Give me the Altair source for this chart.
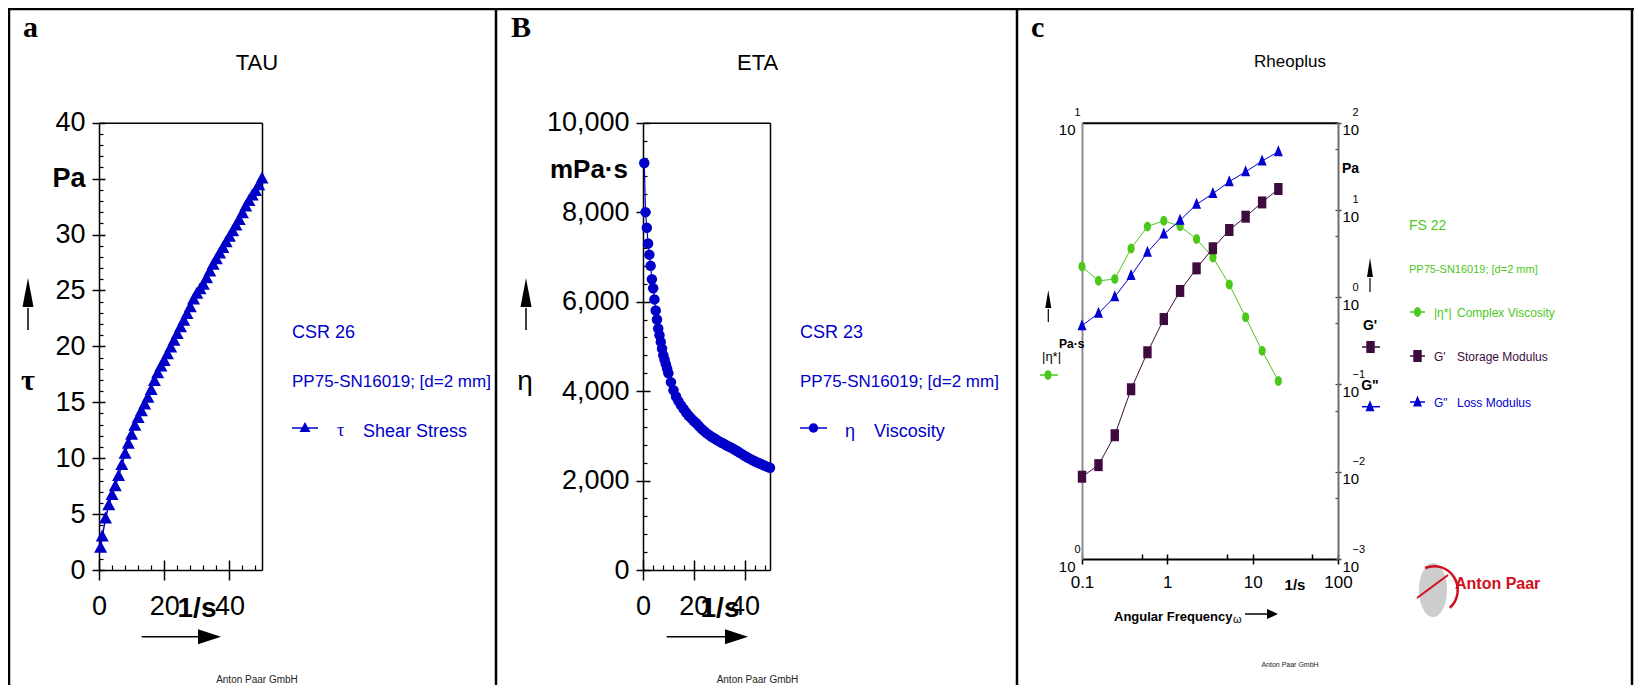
import altair as alt
import pandas as pd

# ------------------------------------------------------------------ data
# Panel a: shear stress curve (CSR 26)
rate_a = [0.5, 1, 2, 3, 4, 5, 6, 7, 8, 9, 10, 11, 12, 13, 14, 15, 16, 17, 18, 19, 20,
          21, 22, 23, 24, 25, 26, 27, 28, 29, 30, 31, 32, 33, 34, 35, 36, 37, 38, 39, 40,
          41, 42, 43, 44, 45, 46, 47, 48, 49, 50]
tau_a = [2.0, 3.0, 4.6, 5.8, 6.7, 7.5, 8.4, 9.4, 10.4, 11.3, 12.1, 12.9, 13.6, 14.2, 14.8, 15.4, 16.1, 16.9, 17.6, 18.2, 18.7,
         19.3, 19.9, 20.5, 21.1, 21.7, 22.3, 22.9, 23.5, 24.2, 24.7, 25.1, 25.5, 26.1, 26.7, 27.3, 27.8, 28.3, 28.8, 29.3, 29.8,
         30.3, 30.8, 31.3, 31.9, 32.5, 33.0, 33.5, 33.9, 34.4, 35.0]

# Panel b: viscosity curve (CSR 23), mPa·s
rate_b = [0.5, 1.0, 1.5, 2.0, 2.5, 3.0, 3.5, 4.0, 4.5, 5.0, 5.5, 6.0, 6.5, 7.0, 7.5, 8.0, 8.5, 9.0, 9.5, 10.0,
          11, 12, 13, 14, 15, 16, 17, 18, 19, 20, 21, 22, 23, 24, 25, 26, 27, 28, 29, 30,
          31, 32, 33, 34, 35, 36, 37, 38, 39, 40, 41, 42, 43, 44, 45, 46, 47, 48, 49, 50]
visc_b = [9100, 8000, 7650, 7300, 7050, 6800, 6500, 6300, 6050, 5800, 5600, 5400, 5250, 5100, 4950, 4800, 4700, 4600, 4500, 4400,
          4200, 4020, 3880, 3770, 3680, 3600, 3520, 3450, 3390, 3330, 3280, 3220, 3160, 3110, 3060, 3020, 2980, 2945, 2910, 2875,
          2845, 2815, 2785, 2755, 2725, 2695, 2660, 2625, 2590, 2555, 2520, 2490, 2460, 2430, 2405, 2380, 2355, 2330, 2305, 2285]

# Panel c: frequency sweep (FS 22)
ang_freq = [0.1, 0.156, 0.242, 0.376, 0.585, 0.909, 1.41, 2.2, 3.42, 5.32, 8.27, 12.9, 20]
complex_visc = [4.68, 4.34, 4.38, 5.15, 5.78, 5.96, 5.79, 5.41, 4.91, 4.26, 3.58, 3.0, 2.56]
storage_mod = [0.00877, 0.0119, 0.0262, 0.0881, 0.234, 0.562, 1.18, 2.14, 3.64, 5.89, 8.37, 12.2, 17.4]
loss_mod = [0.472, 0.654, 1.01, 1.77, 3.27, 5.3, 7.62, 11.6, 15.4, 21.1, 27.4, 36.4, 46.5]

# tick values
a_x_major = [0, 20, 40]
a_x_minor = [4, 8, 12, 16, 24, 28, 32, 36, 44, 48]
a_y_major = [0, 5, 10, 15, 20, 25, 30, 35, 40]
a_y_minor = [i for i in range(1, 40) if i % 5]
b_y_major = [0, 2000, 4000, 6000, 8000, 10000]
b_y_minor = [400 * k for k in range(1, 25) if k % 5]
c_x_major = [0.1, 1, 10, 100]
c_x_all = [0.1, 0.5, 1, 5, 10, 50, 100]
c_yl = [1, 10]
c_yr = [0.001, 0.01, 0.1, 1, 10, 100]
c_yr_all = [0.001, 0.005, 0.01, 0.05, 0.1, 0.5, 1, 5, 10, 50, 100]

df_a = pd.DataFrame({"rate": rate_a, "tau": tau_a})
df_b = pd.DataFrame({"rate": rate_b, "eta": visc_b})
df_c = pd.DataFrame({"w": ang_freq, "eta": complex_visc, "gp": storage_mod, "gpp": loss_mod})

# ------------------------------------------------------------------ style
W, H = 1626, 677
MARGIN = 8
SANS = "Liberation Sans"
NARROW = "Liberation Sans Narrow, Liberation Sans"
SERIF = "Liberation Serif"
BLUE = "#0000c8"
GREEN = "#4cc81a"
PURPLE = "#3d0b3d"
CBLUE = "#0000d0"
RED = "#d0101c"
GRAY = "#8c8c8c"

ONE = alt.Data(values=[{"k": 0}])


def P(v):
    return v - MARGIN


def text(s, x, y, size, color="black", font=SANS, weight="normal", align="left"):
    return alt.Chart(ONE).mark_text(text=s, font=font, fontSize=size, fontWeight=weight, color=color,
                                    align=align, baseline="alphabetic").encode(
        x=alt.value(P(x)), y=alt.value(P(y)))


def line(x1, y1, x2, y2, color="black", width=1.5):
    return alt.Chart(ONE).mark_rule(color=color, strokeWidth=width).encode(
        x=alt.value(P(x1)), y=alt.value(P(y1)), x2=alt.value(P(x2)), y2=alt.value(P(y2)))


def symbol(x, y, shape, color, size=4, opacity=1.0):
    return alt.Chart(ONE).mark_point(shape=shape, size=size, filled=True, color=color,
                                     opacity=opacity).encode(x=alt.value(P(x)), y=alt.value(P(y)))


def up_arrow(x, y_tail, y_base, w, h, shaft_w=1.5):
    return [line(x, y_tail, x, y_base + 1, width=shaft_w),
            symbol(x, y_base, f"M{-w/2},0L{w/2},0L0,{-h}Z", "black")]


def right_arrow(x_tail, x_base, y, l, h, shaft_w=1.5):
    return [line(x_tail, y, x_base + 1, y, width=shaft_w),
            symbol(x_base, y, f"M0,{-h/2}L{l},0L0,{h/2}Z", "black")]


TRI_A = "M0,-7L6.5,5L-6.5,5Z"
TRI_A_LEG = "M0,-6L5.5,4L-5.5,4Z"
TRI_C = "M0,-6.5L4.5,4.5L-4.5,4.5Z"
SQ_C = "M-4.2,-6L4.2,-6L4.2,6L-4.2,6Z"
ELL_C = "M-3.6,0A3.6,5,0,1,0,3.6,0A3.6,5,0,1,0,-3.6,0Z"


def lin(domain, r):
    return alt.Scale(type="linear", domain=domain, range=r, nice=False, zero=False)


def logsc(domain, r):
    return alt.Scale(type="log", domain=domain, range=r, nice=False)


def ax(orient, pos, **kw):
    if orient == "left":
        off = -P(pos)
    elif orient == "right":
        off = P(pos) - W
    elif orient == "top":
        off = -P(pos)
    else:
        off = P(pos) - H
    base = dict(orient=orient, offset=off, title=None, grid=False, labels=False, ticks=False,
                domain=False, tickSize=0, labelOverlap=False, labelFlush=False, labelBound=False,
                tickColor="black", tickWidth=1.5, domainColor="black", domainWidth=1.5,
                labelColor="black")
    base.update(kw)
    return alt.Axis(**base)


layers = []

# ------------------------------------------------------------------ outer frame
layers += [
    line(8, 9, 1634, 9, width=2.5),
    line(9, 8, 9, 690, width=2.5),
    line(496, 8, 496, 690, width=2.5),
    line(1017, 8, 1017, 690, width=2.5),
    line(1632, 8, 1632, 690, width=2.5),
]

# ------------------------------------------------------------------ panel a
def XA(axis):
    return alt.X("rate:Q", scale=lin([0, 50], [P(99), P(262)]), axis=axis)


def YA(axis):
    return alt.Y("tau:Q", scale=lin([0, 40], [P(570), P(122.7)]), axis=axis)


layers += [
    alt.Chart(df_a).mark_point(opacity=0).encode(
        x=XA(ax("bottom", 560, values=a_x_major, ticks=True, tickSize=10)),
        y=YA(ax("left", 105, values=a_y_major, ticks=True, tickSize=6))),
    alt.Chart(df_a).mark_point(opacity=0).encode(
        x=XA(ax("bottom", 565, values=a_x_minor, ticks=True, tickSize=5, tickWidth=1.2)),
        y=YA(ax("left", 103, values=a_y_minor, ticks=True, tickSize=4, tickWidth=1.2))),
    alt.Chart(df_a).mark_point(opacity=0).encode(
        x=XA(ax("top", 122.7, domain=True)),
        y=YA(ax("right", 262, domain=True))),
    alt.Chart(df_a).mark_line(color=BLUE, strokeWidth=1.5,
                              point=alt.OverlayMarkDef(shape=TRI_A, size=4, filled=True, color=BLUE, opacity=1)).encode(
        x=XA(ax("bottom", 570, values=a_x_major, ticks=True, tickSize=10, domain=True, labels=True,
                labelFont=SANS, labelFontSize=27, labelPadding=13)),
        y=YA(ax("left", 99, values=a_y_major, ticks=True, tickSize=7, domain=True, labels=True,
                labelFont=SANS, labelFontSize=27, labelPadding=7,
                labelExpr="datum.value == 35 ? 'Pa' : datum.label",
                labelFontWeight={"condition": {"test": "datum.value == 35", "value": "bold"}, "value": "normal"}))),
]

layers += [
    text("a", 23, 37, 30, font=SERIF, weight="bold"),
    text("TAU", 257, 70, 22, align="center"),
    text("τ", 28, 390, 30, font=SERIF, weight="bold", align="center"),
    text("1/s", 197, 617, 28, weight="bold", align="center"),
    text("CSR 26", 292, 338, 18, color=BLUE),
    text("PP75-SN16019; [d=2 mm]", 292, 387, 17, color=BLUE),
    line(292, 428, 318, 428, color=BLUE, width=1.5),
    symbol(305, 428, TRI_A_LEG, BLUE),
    text("τ", 337, 436, 18, color=BLUE, font=SERIF),
    text("Shear Stress", 363, 437, 18, color=BLUE),
    text("Anton Paar GmbH", 257, 683, 10, font=NARROW, align="center", color="#222222"),
]
layers += up_arrow(28, 330, 307, 11, 29)
layers += right_arrow(141.7, 198, 636.7, 23, 15)

# ------------------------------------------------------------------ panel b
def XB(axis):
    return alt.X("rate:Q", scale=lin([0, 50], [P(643), P(770)]), axis=axis)


def YB(axis):
    return alt.Y("eta:Q", scale=lin([0, 10000], [P(570), P(122.7)]), axis=axis)


layers += [
    alt.Chart(df_b).mark_point(opacity=0).encode(
        x=XB(ax("bottom", 560, values=a_x_major, ticks=True, tickSize=10)),
        y=YB(ax("left", 650, values=b_y_major, ticks=True, tickSize=7))),
    alt.Chart(df_b).mark_point(opacity=0).encode(
        x=XB(ax("bottom", 565, values=a_x_minor, ticks=True, tickSize=5, tickWidth=1.2)),
        y=YB(ax("left", 647, values=b_y_minor, ticks=True, tickSize=4, tickWidth=1.2))),
    alt.Chart(df_b).mark_point(opacity=0).encode(
        x=XB(ax("top", 122.7, domain=True)),
        y=YB(ax("right", 770, domain=True))),
    alt.Chart(df_b).mark_line(color=BLUE, strokeWidth=1.2,
                              point=alt.OverlayMarkDef(shape="circle", size=110, filled=True, color=BLUE, opacity=1)).encode(
        x=XB(ax("bottom", 570, values=a_x_major, ticks=True, tickSize=10, domain=True, labels=True,
                labelFont=SANS, labelFontSize=27, labelPadding=13)),
        y=YB(ax("left", 643, values=b_y_major, ticks=True, tickSize=7, domain=True, labels=True,
                labelFont=SANS, labelFontSize=27, labelPadding=7,
                labelExpr="format(datum.value, ',')"))),
]

layers += [
    text("B", 511, 37, 30, font=SERIF, weight="bold"),
    text("ETA", 757.7, 70, 22, align="center"),
    text("mPa·s", 628, 178, 26, weight="bold", align="right"),
    text("η", 525, 390, 28, align="center"),
    text("1/s", 720, 617, 28, weight="bold", align="center"),
    text("CSR 23", 800, 338, 18, color=BLUE),
    text("PP75-SN16019; [d=2 mm]", 800, 387, 17, color=BLUE),
    line(800, 428, 827, 428, color=BLUE, width=1.5),
    symbol(813.5, 428, "circle", BLUE, size=90),
    text("η", 845, 437, 18, color=BLUE),
    text("Viscosity", 874, 437, 18, color=BLUE),
    text("Anton Paar GmbH", 757.5, 683, 10, font=NARROW, align="center", color="#222222"),
]
layers += up_arrow(526, 330, 307, 11, 29)
layers += right_arrow(666.7, 725, 636.7, 23, 15)

# ------------------------------------------------------------------ panel c
def XC(axis):
    return alt.X("w:Q", scale=logsc([0.1, 100], [P(1082), P(1338)]), axis=axis)


def YL(field, axis):
    return alt.Y(f"{field}:Q", scale=logsc([1, 10], [P(559), P(122.7)]), axis=axis)


def YR(field, axis):
    return alt.Y(f"{field}:Q", scale=logsc([0.001, 100], [P(559), P(122.7)]), axis=axis)


EXP = "format(round(log(datum.value) / LN10), 'd')"

layers += [
    alt.Chart(df_c).mark_point(opacity=0).encode(
        x=XC(None),
        y=YL("eta", ax("left", 1082, values=c_yl, labels=True, labelExpr=EXP, labelAlign="left",
                       labelPadding=8, labelOffset=-10, labelFont=NARROW, labelFontSize=11))),
    alt.Chart(df_c).mark_point(opacity=0).encode(
        x=XC(None),
        y=YR("gp", ax("right", 1335, values=c_yr_all, ticks=True, tickSize=3, tickWidth=1.2, tickColor="#444444"))),
    alt.Chart(df_c).mark_line(color=GREEN, strokeWidth=1,
                              point=alt.OverlayMarkDef(shape=ELL_C, size=4, filled=True, color=GREEN, opacity=1)).encode(
        x=XC(ax("bottom", 559, values=c_x_major, ticks=True, tickSize=5, domain=True, domainWidth=2,
                labels=True, labelExpr="format(datum.value, '~g')", labelFont=NARROW, labelFontSize=17,
                labelPadding=10)),
        y=YL("eta", ax("left", 1082, values=c_yl, domain=True, domainColor=GRAY, domainWidth=2, labels=True,
                       labelExpr="'10'", labelPadding=7, labelOffset=7, labelFont=NARROW, labelFontSize=15))),
    alt.Chart(df_c).mark_line(color=PURPLE, strokeWidth=1,
                              point=alt.OverlayMarkDef(shape=SQ_C, size=4, filled=True, color=PURPLE, opacity=1)).encode(
        x=XC(ax("bottom", 554, values=c_x_all, ticks=True, tickSize=5)),
        y=YR("gp", ax("right", 1338, values=c_yr, ticks=True, tickSize=3, tickColor="#444444", domain=True,
                      domainColor="#6e6e6e", domainWidth=2, labels=True, labelExpr="'10'", labelPadding=1,
                      labelOffset=7, labelFont=NARROW, labelFontSize=15))),
    alt.Chart(df_c).mark_line(color=CBLUE, strokeWidth=1,
                              point=alt.OverlayMarkDef(shape=TRI_C, size=4, filled=True, color=CBLUE, opacity=1)).encode(
        x=XC(ax("top", 122.7, domain=True, domainWidth=2)),
        y=YR("gpp", ax("right", 1338, values=c_yr, labels=True, labelExpr=EXP, labelPadding=14,
                       labelOffset=-10, labelFont=NARROW, labelFontSize=11))),
]

layers += [
    text("c", 1031, 37, 30, font=SERIF, weight="bold"),
    text("Rheoplus", 1290, 67, 17, font=NARROW, align="center"),
    text("Pa·s", 1059, 348, 12, font=NARROW, weight="bold"),
    text("|η*|", 1042, 361, 13, font=NARROW),
    line(1040, 375, 1058, 375, color=GREEN, width=1.5),
    symbol(1048, 375, ELL_C, GREEN),
    text("Pa", 1342, 173, 14, font=NARROW, weight="bold"),
    text("G'", 1370, 330, 14, font=NARROW, weight="bold", align="center"),
    line(1362, 347, 1380, 347, color=PURPLE, width=1.5),
    symbol(1370.5, 347, SQ_C, PURPLE),
    text('G"', 1370, 390, 14, font=NARROW, weight="bold", align="center"),
    line(1362, 406.7, 1380, 406.7, color=CBLUE, width=1.5),
    symbol(1370, 406.7, TRI_C, CBLUE),
    text("1/s", 1295, 590, 15, font=NARROW, weight="bold", align="center"),
    text("Angular Frequency", 1114, 621, 13, font=NARROW, weight="bold"),
    text("ω", 1233, 623, 11, font=NARROW),
    text("FS 22", 1409, 230, 14, color=GREEN, font=NARROW),
    text("PP75-SN16019; [d=2 mm]", 1409, 273, 11, color=GREEN, font=NARROW),
    line(1410, 312, 1425, 312, color=GREEN, width=1.5),
    symbol(1417.5, 312, ELL_C, GREEN),
    text("|η*|", 1434, 317, 12, color=GREEN, font=NARROW),
    text("Complex Viscosity", 1457, 317, 12, color=GREEN, font=NARROW),
    line(1410, 356, 1425, 356, color=PURPLE, width=1.5),
    symbol(1417.5, 356, SQ_C, PURPLE),
    text("G'", 1434, 361, 12, color=PURPLE, font=NARROW),
    text("Storage Modulus", 1457, 361, 12, color=PURPLE, font=NARROW),
    line(1410, 402, 1425, 402, color=CBLUE, width=1.5),
    symbol(1417.5, 402, TRI_C, CBLUE),
    text('G"', 1434, 407, 12, color=CBLUE, font=NARROW),
    text("Loss Modulus", 1457, 407, 12, color=CBLUE, font=NARROW),
    # logo
    symbol(1433, 590, "M-14,0A14,27,0,1,0,14,0A14,27,0,1,0,-14,0Z", "#c4c4c4", opacity=0.85),
    alt.Chart(ONE).mark_arc(theta=5.9, theta2=8.7, radius=25, radius2=22.5, color=RED).encode(
        x=alt.value(P(1434)), y=alt.value(P(590))),
    line(1417, 598, 1448, 575, color=RED, width=2),
    text("Anton Paar", 1455, 589, 16, color=RED, font=NARROW, weight="bold"),
    text("Anton Paar GmbH", 1290, 667, 7, font=NARROW, align="center", color="#222222"),
]
layers += up_arrow(1048.3, 322, 308, 6, 18, shaft_w=1.2)
layers += up_arrow(1370, 292, 277, 6, 19, shaft_w=1.2)
layers += right_arrow(1245, 1267, 614, 11, 10, shaft_w=1.5)

chart = alt.layer(*layers).resolve_scale(x="independent", y="independent").resolve_axis(
    x="independent", y="independent").properties(
    width=W, height=H, autosize=alt.AutoSizeParams(type="none"), padding=0
).configure_view(stroke=None).configure(background="white")

chart.save("out.html", embed_options={"renderer": "svg", "actions": False})
